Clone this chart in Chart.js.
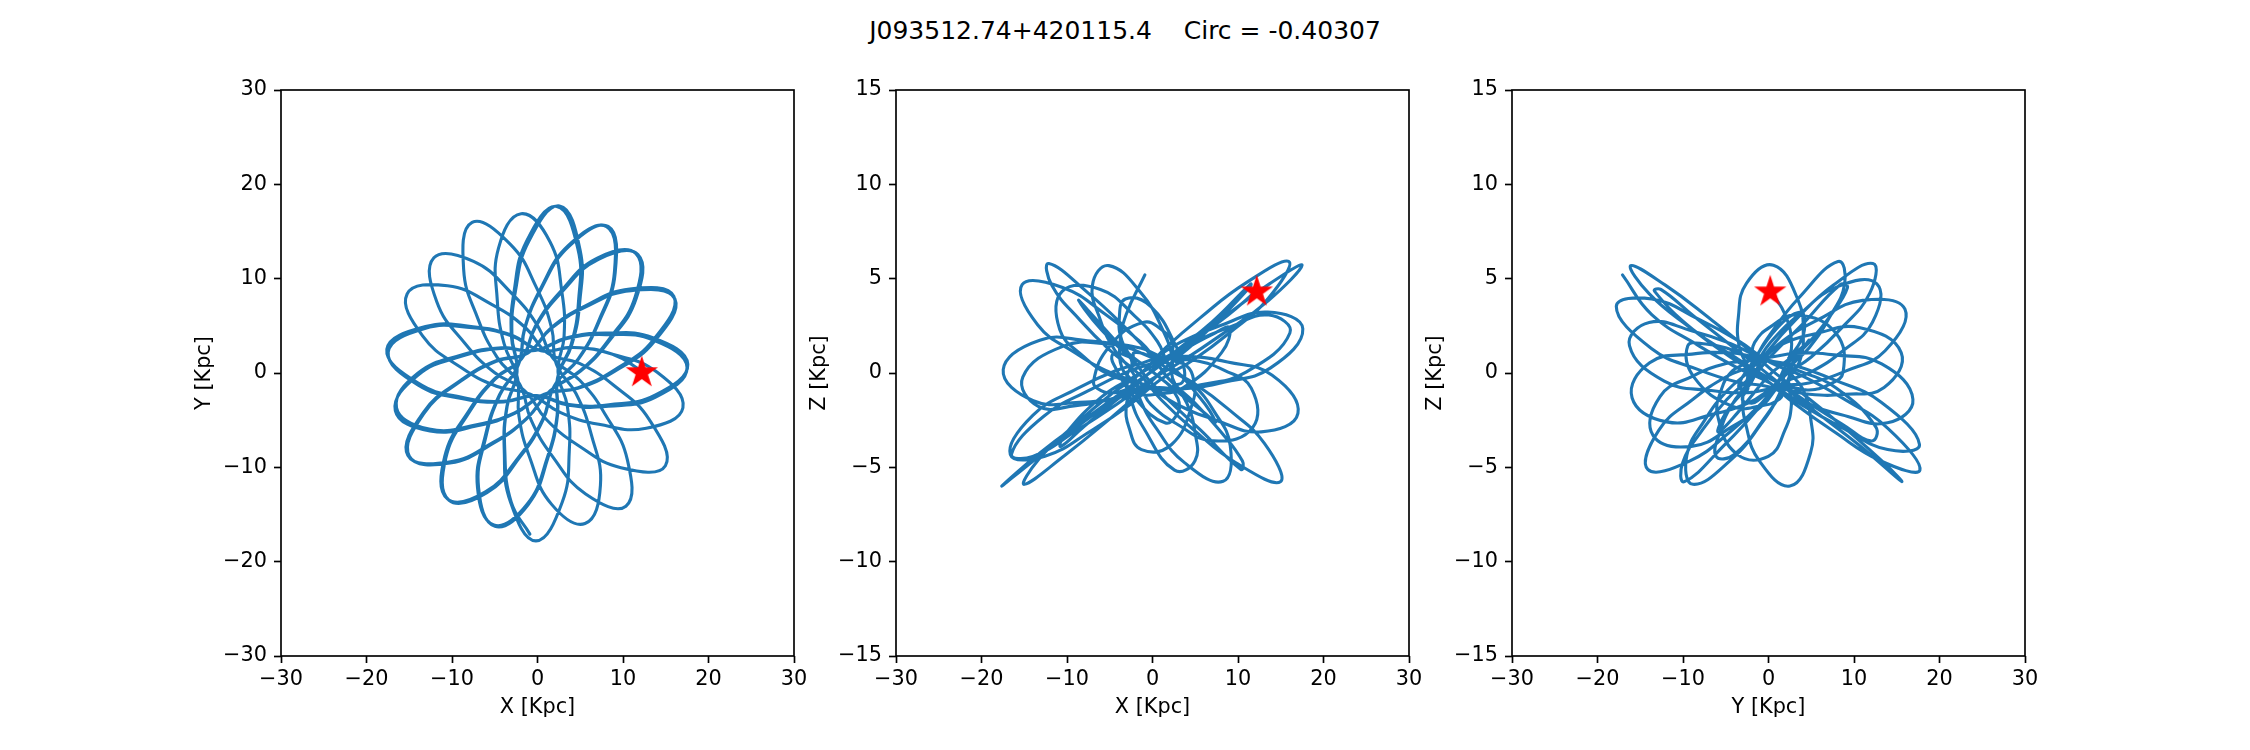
<!DOCTYPE html>
<html>
<head>
<meta charset="utf-8">
<title>Orbit projections</title>
<script src="https://cdn.jsdelivr.net/npm/chart.js@4.4.1/dist/chart.umd.min.js"></script>
<style>
  html, body { margin: 0; padding: 0; background: #fff; }
  #page { position: relative; width: 2250px; height: 750px; overflow: hidden; font-family: "DejaVu Sans", sans-serif; }
  #suptitle { position: absolute; left: 0; top: 16px; width: 2250px; text-align: center; font-size: 25px; line-height: 30px; white-space: pre; color: #000; }
  canvas { position: absolute; top: 60px; }
</style>
</head>
<body>
<div id="page">
  <div id="suptitle">J093512.74+420115.4    Circ = -0.40307</div>
  <canvas id="xy" width="653" height="676" style="left:171px"></canvas>
  <canvas id="xz" width="653" height="676" style="left:786px"></canvas>
  <canvas id="yz" width="653" height="676" style="left:1402px"></canvas>
</div>
<script>
// ============================================================
// Orbit of J093512.74+420115.4 — X/Y/Z projections (Kpc)
// ============================================================

// orbit track (same sample order in all arrays)
const orbitX = [
  12.2, 8.78, 4.20, 0.42, -3.00, -7.54, -13.10, -17.62,
  -13.96, -8.61, -4.00, -0.13, 3.65, 8.28, 13.76, 17.49,
  13.56, 8.03, 3.42, -0.30, -4.22, -8.79, -14.00, -16.49,
  -12.68, -7.13, -2.68, 0.80, 4.73, 9.00, 13.61, 16.07,
  10.94, 5.65, 1.62, -1.13, -4.83, -8.97, -13.36, -15.17,
  -10.34, -5.18, -1.30, 1.49, 5.00, 8.35, 11.55, 11.75,
  7.13, 2.80, -0.17, -1.82, -4.97, -8.04, -10.85, -10.54,
  -6.09, -2.07, 0.58, 2.01, 4.78, 7.19, 9.09, 8.26,
  3.74, 0.47, -1.46, -2.21, -4.44, -6.09, -7.02, -5.11,
  -1.24, 1.16, 2.30, 2.34, 4.01, 4.94, 4.97, 2.58,
  -1.02, -2.59, -2.99, -2.39, -3.57, -3.89, -3.17, -0.19,
  2.89, 3.72, 3.50, 2.40, 3.11, 2.86, 1.46, -1.92,
  -4.56, -4.70, -3.91, -2.34, -2.18, -0.91, 1.63, 5.56,
  7.36, 6.27, 4.50, 2.22, 1.66, -0.09, -3.17, -7.65,
  -8.64, -6.95, -4.72, -2.06, -0.77, 1.75, 5.63, 10.34,
  10.52, 7.89, 4.94, 1.82, 0.02, -3.05, -7.48, -12.12,
  -11.78, -8.45, -5.00, -1.52, 1.01, 4.73, 9.76, 14.96,
  13.09, 8.91, 4.90, 1.24, -1.40, -5.32, -10.52, -15.25,
  -13.44, -8.98, -4.80, -0.84, 2.71, 7.17, 12.72, 17.01,
  14.00, 8.78, 4.20, 0.40, -3.06, -7.62, -13.18, -17.46,
  -13.94, -8.57, -3.95, -0.09, 3.72, 8.34, 13.81, 17.58,
  13.49, 7.95, 3.35, -0.34, -4.26, -8.82, -14.00, -16.63,
  -12.58, -7.04, -2.61, 0.83, 4.76, 8.99, 13.55, 15.95,
  10.80, 5.54, 1.55, -1.15, -4.84, -8.96, -13.32, -14.99,
  -10.24, -5.10, -1.25, 1.52, 4.99, 8.30, 11.43, 11.49,
  6.94, 2.66, -0.24, -1.84, -4.96, -7.98, -10.72, -10.35,
  -5.92, -1.95, 0.65, 2.02, 4.77, 7.14, 9.00, 8.08,
  3.62, 0.39, -1.50, -2.22, -4.41, -6.02, -6.89, -4.97,
  -1.10, 1.25, 2.35, 2.35, 3.95, 4.80, 4.72, 2.23,
  -1.29, -2.75, -3.06, -2.39, -3.55, -3.83, -3.08, -0.89
];
const orbitY = [
  0.2, 1.99, 2.71, 2.36, 4.00, 4.91, 4.93, 2.51,
  -1.07, -2.62, -3.00, -2.40, -3.42, -3.53, -2.58, 0.58,
  3.48, 4.07, 3.65, 2.38, 2.68, 1.93, -0.02, -3.69,
  -5.94, -5.49, -4.22, -2.26, -1.62, 0.17, 3.29, 7.87,
  8.73, 7.00, 4.73, 2.12, 1.30, -0.77, -4.19, -8.72,
  -9.44, -7.36, -4.83, -1.88, 0.17, 3.36, 7.91, 12.56,
  12.05, 8.55, 5.00, 1.57, -0.58, -4.04, -8.85, -13.34,
  -12.60, -8.76, -4.97, -1.31, 1.46, 5.42, 10.65, 15.54,
  13.49, 8.99, 4.78, 0.93, -2.30, -6.62, -12.11, -16.11,
  -13.94, -8.93, -4.44, -0.54, 2.99, 7.52, 13.09, 17.71,
  13.96, 8.62, 4.01, 0.19, -3.50, -8.12, -13.64, -17.80,
  -13.70, -8.20, -3.57, 0.12, 3.91, 8.53, 13.92, 16.89,
  13.24, 7.67, 3.11, -0.53, -4.50, -8.95, -13.90, -15.96,
  -11.91, -6.45, -2.18, 0.91, 4.72, 9.00, 13.64, 15.96,
  11.02, 5.71, 1.66, -1.23, -4.94, -8.83, -12.82, -14.12,
  -9.24, -4.34, -0.77, 1.56, 5.00, 8.47, 11.83, 12.21,
  7.56, 3.11, 0.02, -1.86, -4.90, -7.66, -10.04, -9.83,
  -4.97, -1.30, 1.01, 2.06, 4.80, 7.26, 9.24, 8.38,
  3.93, 0.60, -1.40, -2.25, -4.20, -5.44, -5.85, -3.68,
  0.07, 1.99, 2.71, 2.37, 3.95, 4.80, 4.72, 2.21,
  -1.29, -2.75, -3.06, -2.40, -3.35, -3.37, -2.31, 0.92,
  3.74, 4.23, 3.72, 2.38, 2.61, 1.79, -0.24, -3.99,
  -6.14, -5.60, -4.26, -2.25, -1.55, 0.31, 3.51, 8.13,
  8.91, 7.09, 4.76, 2.10, 1.25, -0.86, -4.33, -8.83,
  -9.55, -7.42, -4.84, -1.86, 0.24, 3.49, 8.09, 12.67,
  12.16, 8.60, 4.99, 1.54, -0.65, -4.16, -9.00, -13.49,
  -12.69, -8.79, -4.96, -1.29, 1.50, 5.48, 10.72, 15.52,
  13.52, 8.99, 4.77, 0.91, -2.35, -6.69, -12.19, -16.26,
  -13.96, -8.91, -4.41, -0.50, 3.06, 7.62, 13.18, 17.66,
  13.94, 8.57, 3.95, 0.15, -3.52, -8.14, -13.66, -17.08
];
const orbitZ = [
  4.38, 3.05, 1.53, 0.24, -0.84, -2.33, -4.21, -5.99,
  -4.66, -2.79, -1.22, 0.06, 1.38, 2.94, 4.75, 5.71,
  3.84, 2.02, 0.62, -0.39, -1.67, -3.02, -4.42, -4.30,
  -2.28, -0.85, 0.11, 0.67, 1.62, 2.43, 3.07, 2.12,
  0.05, -0.63, -0.90, -0.80, -1.38, -1.73, -1.77, -0.22,
  1.44, 1.54, 1.31, 0.79, 0.66, 0.15, -0.80, -2.87,
  -3.60, -2.69, -1.68, -0.64, -0.11, 0.87, 2.31, 4.34,
  4.43, 3.02, 1.67, 0.39, -0.62, -2.02, -3.84, -5.74,
  -4.75, -2.95, -1.38, -0.06, 1.23, 2.80, 4.67, 5.69,
  4.19, 2.32, 0.83, -0.28, -1.60, -3.06, -4.65, -5.15,
  -2.93, -1.32, -0.16, 0.56, 1.70, 2.84, 3.92, 3.52,
  1.30, 0.18, -0.49, -0.74, -1.55, -2.21, -2.64, -1.40,
  0.48, 0.96, 1.05, 0.82, 1.07, 1.00, 0.54, -1.31,
  -2.59, -2.18, -1.55, -0.75, -0.53, 0.10, 1.18, 3.38,
  3.85, 2.80, 1.70, 0.56, -0.20, -1.39, -3.03, -5.11,
  -4.67, -3.06, -1.58, -0.27, 0.85, 2.35, 4.22, 5.80,
  4.65, 2.79, 1.21, -0.08, -1.42, -2.98, -4.76, -5.76,
  -3.73, -1.93, -0.56, 0.39, 1.65, 3.05, 4.53, 4.68,
  2.56, 1.05, 0.00, -0.65, -1.63, -2.46, -3.12, -2.14,
  -0.12, 0.58, 0.88, 0.80, 1.37, 1.71, 1.74, 0.18,
  -1.47, -1.55, -1.31, -0.80, -0.83, -0.49, 0.27, 2.34,
  3.23, 2.52, 1.65, 0.67, 0.13, -0.83, -2.25, -4.32,
  -4.41, -3.02, -1.67, -0.38, 0.69, 2.12, 3.96, 5.91,
  4.74, 2.91, 1.34, 0.07, -1.13, -2.70, -4.58, -5.90,
  -4.36, -2.47, -0.94, 0.28, 1.63, 3.06, 4.58, 4.72,
  2.69, 1.14, 0.06, -0.58, -1.70, -2.82, -3.89, -3.32,
  -1.25, -0.15, 0.50, 0.75, 1.51, 2.08, 2.40, 1.08,
  -0.77, -1.13, -1.13, -0.82, -1.04, -0.93, -0.43, 1.45,
  2.68, 2.23, 1.56, 0.73, 0.40, -0.35, -1.55, -3.79,
  -4.06, -2.89, -1.70, -0.53, 0.24, 1.44, 3.10, 5.20
];

// current position of the star
const starPos = [12.2, 0.2, 4.38];

// axis ticks
const wideTicks = [-30, -20, -10, 0, 10, 20, 30];
const zTicks = [-15, -10, -5, 0, 5, 10, 15];

const FONT = 'DejaVu Sans';
const BLUE = '#1f77b4';

// matplotlib uses a real minus sign on tick labels
function fmt(v) {
  return v < 0 ? '\u2212' + Math.abs(v) : String(v);
}

// filled five-point star marker
function starMarker(size, color) {
  const c = document.createElement('canvas');
  c.width = size;
  c.height = size;
  const g = c.getContext('2d');
  const R = size / 2 - 1;
  const r = R * 0.382;
  g.beginPath();
  for (let i = 0; i < 10; i++) {
    const a = -Math.PI / 2 + i * Math.PI / 5;
    const rad = i % 2 ? r : R;
    g.lineTo(size / 2 + rad * Math.cos(a), size / 2 + 1.5 + rad * Math.sin(a));
  }
  g.closePath();
  g.fillStyle = color;
  g.fill();
  return c;
}

// box around the plot area (all four spines)
const framePlugin = {
  id: 'frame',
  afterDraw(chart) {
    const { ctx, chartArea: a } = chart;
    ctx.save();
    ctx.strokeStyle = '#000';
    ctx.lineWidth = 1.67;
    ctx.strokeRect(a.left, a.top, a.right - a.left, a.bottom - a.top);
    ctx.restore();
  }
};

function axis(pos, ticks, title) {
  const isLeft = pos === 'left';
  return {
    type: 'linear',
    position: pos,
    min: ticks[0],
    max: ticks[ticks.length - 1],
    afterBuildTicks: s => { s.ticks = ticks.map(v => ({ value: v })); },
    afterFit: s => { if (isLeft) s.width = 110; else s.height = 80; },
    grid: { drawOnChartArea: false, drawTicks: true, tickLength: 7, tickWidth: 1.67, tickColor: '#000' },
    border: { display: false },
    ticks: {
      color: '#000',
      padding: isLeft ? 7 : 4,
      autoSkip: false,
      maxRotation: 0,
      font: { family: FONT, size: 20.8 },
      callback: v => fmt(v)
    },
    title: {
      display: true,
      text: title,
      color: '#000',
      font: { family: FONT, size: 20.8 },
      padding: isLeft ? { top: 21, bottom: 0 } : { top: 0, bottom: 15.5 }
    }
  };
}

function drawPanel(id, hs, vs, hTicks, vTicks, hTitle, vTitle, starH, starV) {
  const ctx = document.getElementById(id).getContext('2d');
  return new Chart(ctx, {
    type: 'scatter',
    data: {
      datasets: [
        {
          data: [{ x: starH, y: starV }],
          pointStyle: starMarker(36, '#ff0000'),
          pointRadius: 16,
          order: 0
        },
        {
          data: hs.map((h, i) => ({ x: h, y: vs[i] })),
          showLine: true,
          pointRadius: 0,
          borderColor: BLUE,
          borderWidth: 3.1,
          borderJoinStyle: 'round',
          borderCapStyle: 'round',
          tension: 0.45,
          order: 1
        }
      ]
    },
    options: {
      responsive: false,
      animation: false,
      devicePixelRatio: 1,
      events: [],
      layout: { padding: { top: 30, right: 30, bottom: 0, left: 0 } },
      plugins: { legend: { display: false }, tooltip: { enabled: false } },
      scales: {
        x: axis('bottom', hTicks, hTitle),
        y: axis('left', vTicks, vTitle)
      }
    },
    plugins: [framePlugin]
  });
}

drawPanel('xy', orbitX, orbitY, wideTicks, wideTicks, 'X [Kpc]', 'Y [Kpc]', starPos[0], starPos[1]);
drawPanel('xz', orbitX, orbitZ, wideTicks, zTicks, 'X [Kpc]', 'Z [Kpc]', starPos[0], starPos[2]);
drawPanel('yz', orbitY, orbitZ, wideTicks, zTicks, 'Y [Kpc]', 'Z [Kpc]', starPos[1], starPos[2]);
</script>
</body>
</html>
